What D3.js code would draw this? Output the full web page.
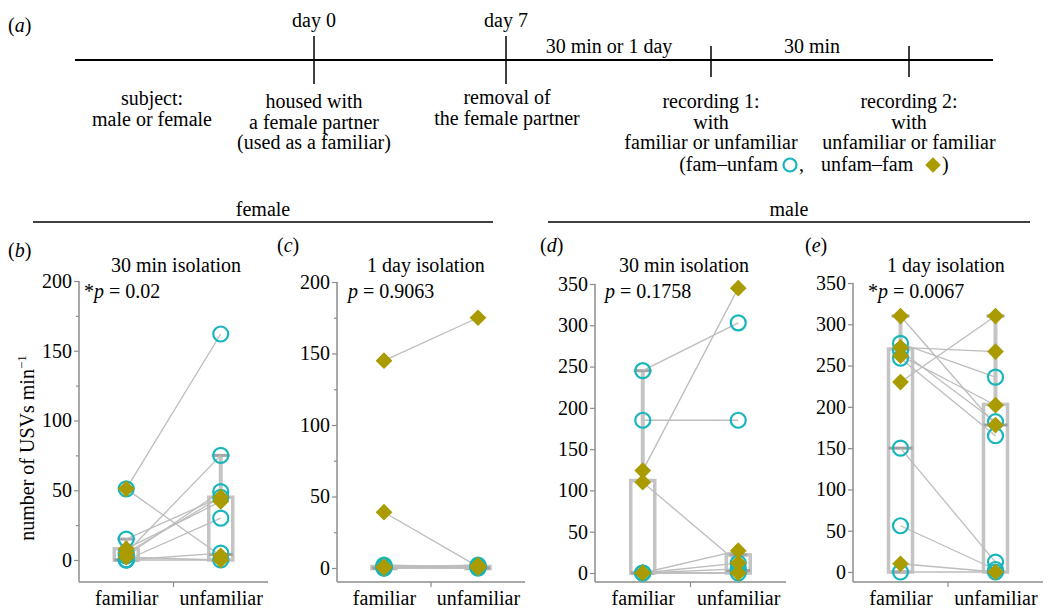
<!DOCTYPE html>
<html>
<head>
<meta charset="utf-8">
<script src="https://cdn.jsdelivr.net/npm/d3@7"></script>
<style>
  body { margin: 0; background: #fff; }
</style>
</head>
<body>
<script>
// ---- data ----
const categories = ["familiar", "unfamiliar"];
const panelNames = ["(b)", "(c)", "(d)", "(e)"];
const panelTitles = ["30 min isolation", "1 day isolation", "30 min isolation", "1 day isolation"];
const pValues = ["0.02", "0.9063", "0.1758", "0.0067"];
const significant = [true, false, false, true];
const yTicks = [
  [0, 50, 100, 150, 200],
  [0, 50, 100, 150, 200],
  [0, 50, 100, 150, 200, 250, 300, 350],
  [0, 50, 100, 150, 200, 250, 300, 350]
];
const minorTicks = [[25, 75, 125, 175], [25, 75, 125, 175], [], []];

// [familiar, unfamiliar] per subject, fam-unfam order (circles)
const circlesB = [[51, 162], [15, 45], [5, 75], [3, 49], [0, 30], [0, 5], [0, 0]];
const circlesC = [[0, 0], [0, 1], [1, 0], [2, 1], [0, 2]];
const circlesD = [[245, 303], [185, 185], [0, 12], [0, 5], [0, 0]];
const circlesE = [[277, 236], [259, 165], [268, 182], [150, 12], [56, 3], [0, 0]];
// unfam-fam order (diamonds)
const diamondsB = [[51, 3], [8, 42], [5, 45], [2, 0]];
const diamondsC = [[145, 175], [39, 1], [0, 0], [1, 2]];
const diamondsD = [[124, 345], [110, 12], [0, 27], [0, 0]];
const diamondsE = [[310, 178], [272, 267], [230, 310], [262, 202], [10, 0]];
// box stats [min, q1, median, q3, max] for familiar / unfamiliar
const boxesB = [[0, 0, 0, 8, 15], [0, 0, 4, 45, 75]];
const boxesC = [[0, 0, 0, 1, 2], [0, 0, 0, 1, 2]];
const boxesD = [[0, 0, 0, 112, 245], [0, 0, 3, 22, 22]];
const boxesE = [[0, 0, 150, 270, 310], [0, 0, 178, 203, 310]];

// timeline texts
const timelineAbove = ["day 0", "day 7", "30 min or 1 day", "30 min"];
const timelineBelow = [
  ["subject:", "male or female"],
  ["housed with", "a female partner", "(used as a familiar)"],
  ["removal of", "the female partner"],
  ["recording 1:", "with", "familiar or unfamiliar"],
  ["recording 2:", "with", "unfamiliar or familiar"]
];
const groupNames = ["female", "male"];

// ---- layout ----
const W = 1057, H = 611;
const FONT = 20;
const SERIF = "Liberation Serif";
const CYAN = "#18b5bd";
const OLIVE = "#a99b00";
const AXIS = "#8c8c8c";
const BOX = "#c4c4c4";
const PAIR = "#bdbdbd";
const X_AXIS_Y = 582;

const panels = [
  { axisX: 79,  endX: 268,  zeroY: 560, topY: 281, labelX: 8,   labelY: 257, titleX: 176, pX: 84,
    circles: circlesB, diamonds: diamondsB, boxes: boxesB },
  { axisX: 337, endX: 525,  zeroY: 568, topY: 282, labelX: 277, labelY: 252, titleX: 426, pX: 348,
    circles: circlesC, diamonds: diamondsC, boxes: boxesC },
  { axisX: 595, endX: 786,  zeroY: 573, topY: 284, labelX: 540, labelY: 252, titleX: 684, pX: 605,
    circles: circlesD, diamonds: diamondsD, boxes: boxesD },
  { axisX: 853, endX: 1043, zeroY: 572, topY: 283, labelX: 805, labelY: 252, titleX: 946, pX: 868,
    circles: circlesE, diamonds: diamondsE, boxes: boxesE }
];

const svg = d3.select("body").append("svg")
  .attr("width", W)
  .attr("height", H);

// ---- (a) timeline ----
const tl = svg.append("g");
tl.append("text").attr("x", 8).attr("y", 32).attr("font-size", FONT)
  .html('(<tspan font-style="italic">a</tspan>)');

tl.append("line")
  .attr("x1", 75).attr("x2", 993).attr("y1", 60).attr("y2", 60)
  .attr("stroke", "#000").attr("stroke-width", 2);

const tlTicks = [
  { x: 314, y1: 36, y2: 84 },
  { x: 506, y1: 36, y2: 84 },
  { x: 711, y1: 46, y2: 77 },
  { x: 909, y1: 46, y2: 77 }
];
tl.selectAll(".tick").data(tlTicks).enter().append("line")
  .attr("x1", d => d.x).attr("x2", d => d.x)
  .attr("y1", d => d.y1).attr("y2", d => d.y2)
  .attr("stroke", "#000").attr("stroke-width", 1.5);

const abovePos = [[314, 27], [506, 27], [609, 53], [812, 53]];
tl.selectAll(".above").data(timelineAbove).enter().append("text")
  .attr("x", (d, i) => abovePos[i][0]).attr("y", (d, i) => abovePos[i][1])
  .attr("text-anchor", "middle").attr("font-size", FONT)
  .text(d => d);

const belowPos = [[152, 105], [314, 108], [507, 104], [711, 108], [909, 108]];
timelineBelow.forEach((lines, i) => {
  const t = tl.append("text")
    .attr("text-anchor", "middle").attr("font-size", FONT)
    .attr("x", belowPos[i][0]).attr("y", belowPos[i][1]);
  lines.forEach((s, j) => {
    t.append("tspan").attr("x", belowPos[i][0]).attr("dy", j === 0 ? 0 : 20.5).text(s);
  });
});

// legend line
const lgY = 171;
tl.append("text").attr("x", 778).attr("y", lgY).attr("text-anchor", "end")
  .attr("font-size", FONT).text("(fam\u2013unfam");
tl.append("circle").attr("cx", 790).attr("cy", lgY - 6).attr("r", 6.5)
  .attr("fill", "none").attr("stroke", CYAN).attr("stroke-width", 2.2);
tl.append("text").attr("x", 799).attr("y", lgY).attr("font-size", FONT).text(",");
tl.append("text").attr("x", 821).attr("y", lgY).attr("font-size", FONT).text("unfam\u2013fam");
tl.append("path")
  .attr("d", d3.symbol(d3.symbolSquare, 120)())
  .attr("transform", `translate(933,${lgY - 6}) rotate(45)`)
  .attr("fill", OLIVE);
tl.append("text").attr("x", 942).attr("y", lgY).attr("font-size", FONT).text(")");

// ---- group headers ----
const groupPos = [[33, 493], [548, 1030]];
groupNames.forEach((name, i) => {
  const [x1, x2] = groupPos[i];
  svg.append("line").attr("x1", x1).attr("x2", x2).attr("y1", 222).attr("y2", 222)
    .attr("stroke", "#000").attr("stroke-width", 1.5);
  svg.append("text").attr("x", (x1 + x2) / 2).attr("y", 216)
    .attr("text-anchor", "middle").attr("font-size", FONT).text(name);
});

// y label
svg.append("text")
  .attr("transform", "translate(34,448) rotate(-90)")
  .attr("text-anchor", "middle").attr("font-size", FONT)
  .html('number of USVs min<tspan dy="-8" font-size="13">\u22121</tspan>');

// ---- panels ----
panels.forEach((p, i) => {
  const g = svg.append("g");

  const x = d3.scalePoint().domain(categories).range([p.axisX, p.endX]).padding(0.5);
  const yMax = d3.max(yTicks[i]);
  const y = d3.scaleLinear().domain([0, yMax]).range([p.zeroY, p.topY]);

  // panel label, title, p-value
  g.append("text").attr("x", p.labelX).attr("y", p.labelY).attr("font-size", FONT)
    .html(`(<tspan font-style="italic">${panelNames[i][1]}</tspan>)`);
  g.append("text").attr("x", p.titleX).attr("y", 272).attr("text-anchor", "middle")
    .attr("font-size", FONT).text(panelTitles[i]);
  g.append("text").attr("x", p.pX).attr("y", 298).attr("font-size", FONT)
    .html((significant[i] ? "*" : "") + `<tspan font-style="italic">p</tspan> = ${pValues[i]}`);

  // axes
  const yAxis = g.append("g")
    .attr("transform", `translate(${p.axisX},0)`)
    .call(d3.axisLeft(y).tickValues(yTicks[i]).tickSize(5).tickPadding(2));
  yAxis.attr("font-family", null);
  yAxis.select(".domain").remove();
  yAxis.selectAll("line").attr("stroke", AXIS).attr("stroke-width", 1.2);
  yAxis.selectAll("text").attr("font-size", FONT).attr("fill", "#000");

  if (minorTicks[i].length) {
    const minor = g.append("g")
      .attr("transform", `translate(${p.axisX},0)`)
      .call(d3.axisLeft(y).tickValues(minorTicks[i]).tickSize(3).tickFormat(""));
    minor.select(".domain").remove();
    minor.selectAll("line").attr("stroke", AXIS).attr("stroke-width", 1.2);
  }

  g.append("line")
    .attr("x1", p.axisX).attr("x2", p.axisX).attr("y1", y(yMax)).attr("y2", X_AXIS_Y)
    .attr("stroke", AXIS).attr("stroke-width", 1.5);

  const xAxis = g.append("g")
    .attr("transform", `translate(0,${X_AXIS_Y})`)
    .call(d3.axisBottom(x).tickSize(0).tickPadding(9));
  xAxis.attr("font-family", null);
  xAxis.select(".domain").remove();
  xAxis.selectAll("text").attr("font-size", FONT).attr("fill", "#000");

  g.append("line")
    .attr("x1", p.axisX).attr("x2", p.endX).attr("y1", X_AXIS_Y).attr("y2", X_AXIS_Y)
    .attr("stroke", AXIS).attr("stroke-width", 1.5);
  const mid = (x(categories[0]) + x(categories[1])) / 2;
  g.append("line")
    .attr("x1", mid).attr("x2", mid).attr("y1", X_AXIS_Y).attr("y2", X_AXIS_Y + 5)
    .attr("stroke", AXIS).attr("stroke-width", 1.2);

  // boxes
  const bw = 24, cap = 18;
  p.boxes.forEach((b, k) => {
    const cx = x(categories[k]);
    const [mn, q1, med, q3, mx] = b;
    const bg = g.append("g");
    bg.append("line").attr("x1", cx).attr("x2", cx).attr("y1", y(q3)).attr("y2", y(mx))
      .attr("stroke", BOX).attr("stroke-width", 4);
    bg.append("line").attr("x1", cx).attr("x2", cx).attr("y1", y(q1)).attr("y2", y(mn))
      .attr("stroke", BOX).attr("stroke-width", 4);
    bg.append("rect")
      .attr("x", cx - bw / 2).attr("width", bw)
      .attr("y", y(q3)).attr("height", Math.max(y(q1) - y(q3), 2))
      .attr("fill", "none").attr("stroke", BOX).attr("stroke-width", 3.5);
    [mx, mn].forEach(v => {
      bg.append("line").attr("x1", cx - cap / 2).attr("x2", cx + cap / 2)
        .attr("y1", y(v)).attr("y2", y(v))
        .attr("stroke", "#a6a6a6").attr("stroke-width", 3);
    });
    bg.append("line").attr("x1", cx - bw / 2).attr("x2", cx + bw / 2)
      .attr("y1", y(med)).attr("y2", y(med))
      .attr("stroke", "#9e9e9e").attr("stroke-width", 3);
  });

  // paired lines
  const pairs = p.circles.concat(p.diamonds);
  g.append("g").selectAll("line").data(pairs).enter().append("line")
    .attr("x1", x(categories[0])).attr("x2", x(categories[1]))
    .attr("y1", d => y(d[0])).attr("y2", d => y(d[1]))
    .attr("stroke", PAIR).attr("stroke-width", 1.3);

  // markers
  const pts = (arr) => arr.flatMap(d => [[0, d[0]], [1, d[1]]]);
  g.append("g").selectAll("circle").data(pts(p.circles)).enter().append("circle")
    .attr("cx", d => x(categories[d[0]])).attr("cy", d => y(d[1]))
    .attr("r", 7.5)
    .attr("fill", "none").attr("stroke", CYAN).attr("stroke-width", 2.2);

  g.append("g").selectAll("path").data(pts(p.diamonds)).enter().append("path")
    .attr("d", d3.symbol(d3.symbolSquare, 140)())
    .attr("transform", d => `translate(${x(categories[d[0]])},${y(d[1])}) rotate(45)`)
    .attr("fill", OLIVE);
});

// serif everywhere, set inline on each text
svg.selectAll("text").style("font-family", SERIF);
</script>
</body>
</html>
